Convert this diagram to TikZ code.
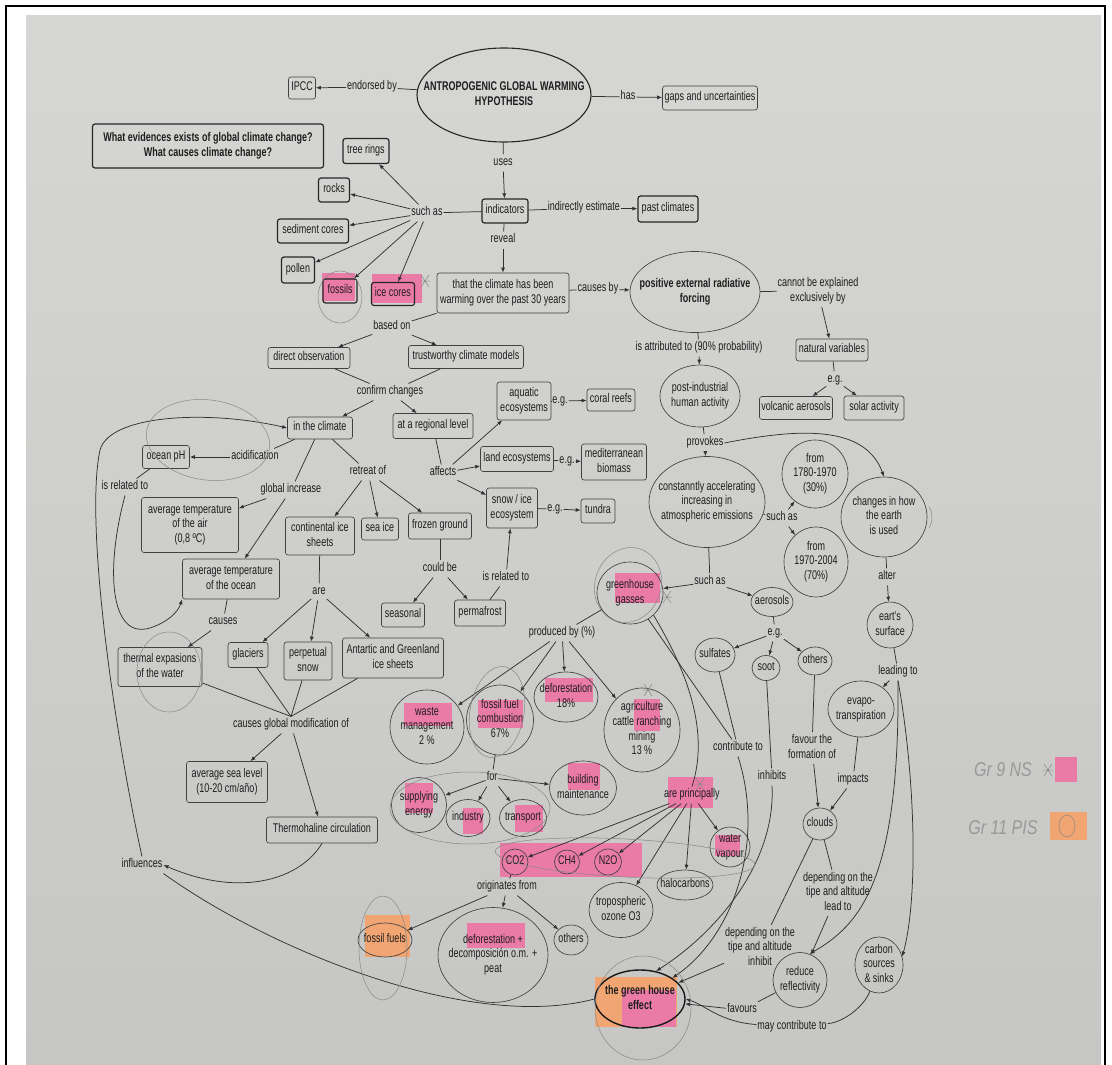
\documentclass[tikz,border=0pt]{standalone}
\usepackage{fontspec}
\setmainfont{Liberation Sans}
\usepackage{graphicx}
\usetikzlibrary{shapes.geometric,arrows.meta}
\definecolor{paperT}{RGB}{214,214,212}
\definecolor{paperB}{RGB}{198,198,196}
\definecolor{txt}{RGB}{30,30,30}
\definecolor{bord}{RGB}{65,65,65}
\definecolor{lin}{RGB}{50,50,50}
\definecolor{pencil}{RGB}{135,135,135}
\definecolor{pinkhl}{RGB}{234,122,166}
\definecolor{orangehl}{RGB}{240,165,115}
\newcommand\mytx[1]{\scalebox{1}[1.4]{\begin{tabular}{@{}c@{}}#1\end{tabular}}}
\newcommand\zt[1]{\makebox[0pt]{\smash{\raisebox{\dimexpr0.5\depth-0.5\height\relax}{\mytx{#1}}}}}
\begin{document}
\begin{tikzpicture}[x=1pt,y=-1pt,
  every node/.style={font=\fontsize{9}{10.5}\selectfont, text=txt},
  bold/.style={font=\fontsize{9}{10.5}\selectfont\bfseries},
  bx/.style={draw=bord, line width=0.65pt, rounded corners=2.5pt, inner sep=0pt},
  bxb/.style={draw=black!85, line width=1.2pt, rounded corners=2.5pt, inner sep=0pt},
  el/.style={ellipse, draw=bord, line width=0.65pt, inner sep=0pt},
  lb/.style={inner sep=1pt},
  ln/.style={draw=lin, line width=0.75pt},
  ar/.style={ln, -{Latex[length=5pt,width=4pt]}},
  pen/.style={draw=pencil, line width=0.5pt},
  hl/.style={fill=pinkhl},
  ho/.style={fill=orangehl}]
\useasboundingbox (0,0) rectangle (1112,1065);
\fill[white] (0,0) rectangle (1112,1065);
\shade[top color=paperT, bottom color=paperB] (26,16) rectangle (1101,1065);
\draw[black, line width=2.2pt] (6,1075) -- (6,6) -- (1105,6) -- (1105,1075);

% highlighter marks
\fill[hl] (322,273) rectangle (355,301);
\fill[hl] (372,274) rectangle (422,303);
\fill[hl] (615,573) rectangle (660,603);
\fill[hl] (404,703) rectangle (452,726);
\fill[hl] (478,700) rectangle (523,728);
\fill[hl] (545,678) rectangle (593,702);
\fill[hl] (634,699) rectangle (660,731);
\fill[hl] (405,783) rectangle (433,813);
\fill[hl] (463,808) rectangle (483,834);
\fill[hl] (515,805) rectangle (543,832);
\fill[hl] (568,763) rectangle (600,790);
\fill[hl] (668,777) rectangle (713,808);
\fill[hl] (500,843) rectangle (642,877);
\fill[hl] (715,835) rectangle (740,856);
\fill[hl] (467,923) rectangle (525,948);
\fill[ho] (595,977) rectangle (677,1027);
\fill[hl] (622,990) rectangle (676,1027);
\fill[ho] (365,915) rectangle (410,957);
\fill[hl] (1055,757) rectangle (1077,782);
\fill[ho] (1050,812) rectangle (1087,840);

% top
\node[el,bold,line width=1.1pt,draw=black!85,minimum width=174pt,minimum height=94pt] (main) at (504,95) {\zt{ANTROPOGENIC GLOBAL WARMING\\HYPOTHESIS}};
\node[bx,minimum width=27pt,minimum height=22pt] (ipcc) at (302,88) {\zt{IPCC}};
\node[lb] (lEnd) at (372,87) {\mytx{endorsed by}};
\node[lb] (lHas) at (628,97) {\mytx{has}};
\node[bx,minimum width=95pt,minimum height=24pt] (gaps) at (710,98) {\zt{gaps and uncertainties}};
\node[bxb,bold,minimum width=231pt,minimum height=44pt] (quest) at (208,146) {\zt{What evidences exists of global climate change?\\What causes climate change?}};
\node[lb] (lUses) at (503,163) {\mytx{uses}};
\node[bxb,minimum width=46pt,minimum height=24pt] (ind) at (505,211) {\zt{indicators}};
\node[lb] (lSuch1) at (427,213) {\mytx{such as}};
\node[bxb,minimum width=46pt,minimum height=25pt] (tree) at (366,151) {\zt{tree rings}};
\node[bxb,minimum width=31pt,minimum height=24pt] (rocks) at (334,190) {\zt{rocks}};
\node[bxb,minimum width=71pt,minimum height=24pt] (sed) at (313,231) {\zt{sediment cores}};
\node[bxb,minimum width=33pt,minimum height=26pt] (pollen) at (298,270) {\zt{pollen}};
\node[bxb,minimum width=34pt,minimum height=24pt] (fossils) at (340,291) {\zt{fossils}};
\node[bxb,minimum width=43pt,minimum height=23pt] (ice) at (393,294) {\zt{ice cores}};
\node[lb] (lIndir) at (584,208) {\mytx{indirectly estimate}};
\node[bxb,minimum width=60pt,minimum height=26pt] (past) at (668,209) {\zt{past climates}};
\node[lb] (lReveal) at (503,240) {\mytx{reveal}};
\node[bx,minimum width=132pt,minimum height=40pt] (warm) at (503,293) {\zt{that the climate has been\\warming over the past 30 years}};
\node[lb] (lCaus) at (598,289) {\mytx{causes by}};
\node[el,bold,minimum width=130pt,minimum height=81pt] (forcing) at (695,292) {\zt{positive external radiative\\forcing}};
\node[lb] (lCannot) at (818,291) {\mytx{cannot be explained\\exclusively by}};
\node[bx,minimum width=72pt,minimum height=22pt] (natvar) at (832,350) {\zt{natural variables}};
\node[lb] (lEg1) at (835,380) {\mytx{e.g.}};
\node[bx,minimum width=73pt,minimum height=23pt] (volc) at (796,408) {\zt{volcanic aerosols}};
\node[bx,minimum width=60pt,minimum height=24pt] (solar) at (874,408) {\zt{solar activity}};
\node[lb] (lAttr) at (699,348) {\mytx{is attributed to (90\% probability)}};
\node[el,minimum width=80pt,minimum height=62pt] (post) at (700,396) {\zt{post-industrial\\human activity}};
\node[lb] (lProv) at (705,443) {\mytx{provokes}};
\node[el,minimum width=116pt,minimum height=91pt] (accel) at (707,502) {\zt{constanntly accelerating\\increasing in\\atmospheric emissions}};
\node[el,minimum width=66pt,minimum height=68pt] (f1780) at (815,474) {\zt{from\\1780-1970\\(30\%)}};
\node[el,minimum width=64pt,minimum height=70pt] (f1970) at (816,562) {\zt{from\\1970-2004\\(70\%)}};
\node[lb] (lSuch2) at (782,518) {\mytx{such as}};
\node[el,minimum width=86pt,minimum height=80pt] (changes) at (884,517) {\zt{changes in how\\the earth\\is used}};
\node[lb] (lAlter) at (887,577) {\mytx{alter}};
\node[el,minimum width=46pt,minimum height=46pt] (earts) at (890,625) {\zt{eart's\\surface}};
\node[lb] (lLead) at (898,672) {\mytx{leading to}};
\node[el,minimum width=66pt,minimum height=56pt] (evapo) at (861,709) {\zt{evapo-\\transpiration}};
\node[lb] (lSuch3) at (710,582) {\mytx{such as}};
\node[el,minimum width=66pt,minimum height=62pt] (ghg) at (630,593) {\zt{greenhouse\\gasses}};
\node[el,minimum width=42pt,minimum height=29pt] (aeros) at (772,602) {\zt{aerosols}};
\node[lb] (lEg4) at (775,633) {\mytx{e.g.}};
\node[el,minimum width=40pt,minimum height=34pt] (sulf) at (715,655) {\zt{sulfates}};
\node[el,minimum width=28pt,minimum height=25pt] (soot) at (766,668) {\zt{soot}};
\node[el,minimum width=34pt,minimum height=28pt] (othA) at (815,661) {\zt{others}};
\node[lb] (lProd) at (562,633) {\mytx{produced by (\%)}};
\node[el,minimum width=74pt,minimum height=74pt] (waste) at (427,727) {\zt{waste\\management\\2 \%}};
\node[el,minimum width=67pt,minimum height=70pt] (ffc) at (500,720) {\zt{fossil fuel\\combustion\\67\%}};
\node[el,minimum width=64pt,minimum height=50pt] (defor) at (566,697) {\zt{deforestation\\18\%}};
\node[el,minimum width=76pt,minimum height=84pt] (agri) at (642,730) {\zt{agriculture\\cattle ranching\\mining\\13 \%}};
\node[lb] (lFor) at (492,778) {\mytx{for}};
\node[el,minimum width=55pt,minimum height=55pt] (supply) at (419,805) {\zt{supplying\\energy}};
\node[el,minimum width=44pt,minimum height=37pt] (industry) at (468,818) {\zt{industry}};
\node[el,minimum width=47pt,minimum height=37pt] (transport) at (523,818) {\zt{transport}};
\node[el,minimum width=67pt,minimum height=54pt] (building) at (583,788) {\zt{building\\maintenance}};
\node[lb] (lPrinc) at (692,795) {\mytx{are principally}};
\node[el,minimum width=26pt,minimum height=26pt] (co2) at (515,862) {\zt{CO2}};
\node[el,minimum width=25pt,minimum height=24pt] (ch4) at (567,862) {\zt{CH4}};
\node[el,minimum width=27pt,minimum height=26pt] (n2o) at (608,862) {\zt{N2O}};
\node[el,minimum width=40pt,minimum height=40pt] (water) at (730,847) {\zt{water\\vapour}};
\node[el,minimum width=56pt,minimum height=30pt] (halo) at (685,885) {\zt{halocarbons}};
\node[el,minimum width=64pt,minimum height=55pt] (ozone) at (621,910) {\zt{tropospheric\\ozone O3}};
\node[lb] (lOrig) at (507,887) {\mytx{originates from}};
\node[el,minimum width=54pt,minimum height=34pt] (ffuels) at (385,940) {\zt{fossil fuels}};
\node[el,minimum width=110pt,minimum height=95pt] (defpeat) at (493,955) {\zt{deforestation +\\decomposición o.m. +\\peat}};
\node[el,minimum width=34pt,minimum height=30pt] (othG) at (571,940) {\zt{others}};
\node[lb] (lContr) at (738,748) {\mytx{contribute to}};
\node[lb] (lInhibits) at (772,777) {\mytx{inhibits}};
\node[lb] (lFavForm) at (812,748) {\mytx{favour the\\formation of}};
\node[lb] (lImpacts) at (853,780) {\mytx{impacts}};
\node[el,minimum width=34pt,minimum height=32pt] (clouds) at (820,824) {\zt{clouds}};
\node[lb] (lLeadTo) at (838,893) {\mytx{depending on the\\tipe and altitude\\lead to}};
\node[lb] (lInhibit) at (760,948) {\mytx{depending on the\\tipe and altitude\\inhibit}};
\node[el,minimum width=54pt,minimum height=55pt] (reduce) at (800,980) {\zt{reduce\\reflectivity}};
\node[el,minimum width=48pt,minimum height=56pt] (carbon) at (879,965) {\zt{carbon\\sources\\\& sinks}};
\node[el,bold,line width=1.4pt,draw=black!90,minimum width=90pt,minimum height=58pt] (ghe) at (640,999) {\zt{the green house\\effect}};
\node[lb] (lFavours) at (742,1010) {\mytx{favours}};
\node[lb] (lMay) at (792,1027) {\mytx{may contribute to}};

% left part
\node[lb] (lBased) at (392,327) {\mytx{based on}};
\node[bx,minimum width=82pt,minimum height=21pt] (direct) at (309,358) {\zt{direct observation}};
\node[bx,minimum width=115pt,minimum height=23pt] (trust) at (466,357) {\zt{trustworthy climate models}};
\node[lb] (lConfirm) at (390,392) {\mytx{confirm changes}};
\node[bx,minimum width=65pt,minimum height=22pt] (climate) at (320,428) {\zt{in the climate}};
\node[bx,minimum width=80pt,minimum height=25pt] (regional) at (433,426) {\zt{at a regional level}};
\node[lb] (lAffects) at (443,473) {\mytx{affects}};
\node[bx,minimum width=54pt,minimum height=38pt] (aquatic) at (524,401) {\zt{aquatic\\ecosystems}};
\node[lb] (lEg2) at (560,401) {\mytx{e.g.}};
\node[bx,minimum width=48pt,minimum height=22pt] (coral) at (611,400) {\zt{coral reefs}};
\node[bx,minimum width=73pt,minimum height=25pt] (land) at (517,459) {\zt{land ecosystems}};
\node[lb] (lEg3) at (567,461) {\mytx{e.g.}};
\node[bx,minimum width=65pt,minimum height=36pt] (medit) at (614,462) {\zt{mediterranean\\biomass}};
\node[bx,minimum width=51pt,minimum height=40pt] (snow) at (512,508) {\zt{snow / ice\\ecosystem}};
\node[lb] (lEg5) at (555,509) {\mytx{e.g.}};
\node[bx,minimum width=34pt,minimum height=24pt] (tundra) at (598,511) {\zt{tundra}};
\node[bx,minimum width=63pt,minimum height=26pt] (frozen) at (440,526) {\zt{frozen ground}};
\node[lb] (lCould) at (440,569) {\mytx{could be}};
\node[bx,minimum width=43pt,minimum height=24pt] (seasonal) at (403,615) {\zt{seasonal}};
\node[bx,minimum width=51pt,minimum height=26pt] (perma) at (480,613) {\zt{permafrost}};
\node[lb] (lRel2) at (506,578) {\mytx{is related to}};
\node[bx,minimum width=47pt,minimum height=23pt] (ocph) at (166,457) {\zt{ocean pH}};
\node[lb] (lAcid) at (255,457) {\mytx{acidification}};
\node[lb] (lRel1) at (125,487) {\mytx{is related to}};
\node[lb] (lGlobal) at (291,490) {\mytx{global increase}};
\node[bx,minimum width=97pt,minimum height=55pt] (air) at (190,525) {\zt{average temperature\\of the air\\(0,8 ºC)}};
\node[lb] (lRetreat) at (368,472) {\mytx{retreat of}};
\node[bx,minimum width=69pt,minimum height=38pt] (cont) at (320,536) {\zt{continental ice\\sheets}};
\node[bx,minimum width=37pt,minimum height=22pt] (seaice) at (380,529) {\zt{sea ice}};
\node[bx,minimum width=97pt,minimum height=40pt] (ocean) at (231,579) {\zt{average temperature\\of the ocean}};
\node[lb] (lAre) at (319,592) {\mytx{are}};
\node[lb] (lCausesO) at (223,622) {\mytx{causes}};
\node[bx,minimum width=84pt,minimum height=39pt] (thermal) at (160,667) {\zt{thermal expasions\\of the water}};
\node[bx,minimum width=40pt,minimum height=25pt] (glaciers) at (248,655) {\zt{glaciers}};
\node[bx,minimum width=48pt,minimum height=38pt] (perp) at (308,661) {\zt{perpetual\\snow}};
\node[bx,minimum width=101pt,minimum height=40pt] (antar) at (393,658) {\zt{Antartic and Greenland\\ice sheets}};
\node[lb] (lGMod) at (291,725) {\mytx{causes global modification of}};
\node[bx,minimum width=81pt,minimum height=41pt] (sealevel) at (227,782) {\zt{average sea level\\(10-20 cm/año)}};
\node[bx,minimum width=111pt,minimum height=26pt] (thermo) at (322,830) {\zt{Thermohaline circulation}};
\node[lb] (lInfl) at (142,865) {\mytx{influences}};

% legend (handwritten, pencil)
\node[font=\fontsize{16}{16}\selectfont\itshape, text=pencil!85] (leg1) at (1003,770) {\scalebox{1}[1.25]{Gr 9 NS}};
\node[font=\fontsize{16}{16}\selectfont\itshape, text=pencil!85] (leg2) at (1003,828) {\scalebox{1}[1.25]{Gr 11 PIS}};

% connectors
\draw[ln] (main) -- (lEnd); \draw[ar] (lEnd) -- (ipcc);
\draw[ln] (main) -- (lHas); \draw[ar] (lHas) -- (gaps);
\draw[ln] (main) -- (lUses); \draw[ar] (lUses) -- (ind);
\draw[ln] (ind) -- (lSuch1);
\foreach \t in {tree,rocks,sed,pollen,fossils,ice} \draw[ar] (lSuch1) -- (\t);
\draw[ln] (ind) -- (lIndir); \draw[ar] (lIndir) -- (past);
\draw[ln] (ind) -- (lReveal); \draw[ar] (lReveal) -- (warm);
\draw[ln] (warm) -- (lCaus); \draw[ar] (lCaus) -- (forcing);
\draw[ln] (warm) -- (lBased); \draw[ar] (lBased) -- (direct); \draw[ar] (lBased) -- (trust);
\draw[ln] (forcing) -- (lCannot); \draw[ar] (lCannot) -- (natvar);
\draw[ln] (natvar) -- (lEg1); \draw[ar] (lEg1) -- (volc); \draw[ar] (lEg1) -- (solar);
\draw[ln] (forcing) -- (lAttr); \draw[ar] (lAttr) -- (post);
\draw[ln] (post) -- (lProv); \draw[ar] (lProv) -- (accel);
\draw[ar] (lProv.east) .. controls (800,428) and (865,425) .. (changes.north);
\draw[ln] (accel) -- (lSuch2); \draw[ar] (lSuch2) -- (f1780); \draw[ar] (lSuch2) -- (f1970);
\draw[ln] (accel) -- (lSuch3); \draw[ar] (lSuch3) -- (ghg); \draw[ar] (lSuch3) -- (aeros);
\draw[ln] (aeros) -- (lEg4);
\foreach \t in {sulf,soot,othA} \draw[ar] (lEg4) -- (\t);
\draw[ln] (changes) -- (lAlter); \draw[ar] (lAlter) -- (earts);
\draw[ln] (earts) -- (lLead); \draw[ar] (lLead) -- (evapo);
\draw[ar] (lLead.south) .. controls (900,880) and (860,925) .. (reduce.70);
\draw[ar] (lLead.south) .. controls (916,780) and (918,900) .. (carbon.20);
\draw[ln] (evapo) -- (lImpacts); \draw[ar] (lImpacts) -- (clouds);
\draw[ln] (othA) -- (lFavForm); \draw[ar] (lFavForm) -- (clouds);
\draw[ln] (clouds) -- (lLeadTo); \draw[ar] (lLeadTo) -- (reduce);
\draw[ln] (clouds) -- (lInhibit); \draw[ar] (lInhibit) -- (ghe);
\draw[ln] (reduce) -- (lFavours); \draw[ar] (lFavours) -- (ghe);
\draw[ln] (carbon) .. controls (865,1005) and (845,1022) .. (lMay);
\draw[ar] (lMay) .. controls (720,1022) and (705,1005) .. (ghe.east);
\draw[ln] (sulf) -- (lContr); \draw[ln] (ghg) -- (lContr);
\draw[ar] (lContr.south) .. controls (765,840) and (735,935) .. (ghe.north east);
\draw[ln] (soot) -- (lInhibits);
\draw[ar] (lInhibits.south) .. controls (776,860) and (720,930) .. (ghe.60);
\draw[ln] (ghg) -- (lProd);
\foreach \t in {waste,ffc,defor,agri} \draw[ar] (lProd) -- (\t);
\draw[ln] (ffc) -- (lFor);
\foreach \t in {supply,industry,transport,building} \draw[ar] (lFor) -- (\t);
\draw[ln] (ghg.south east) .. controls (680,660) and (712,725) .. (lPrinc.north);
\foreach \t in {co2,ch4,n2o,ozone,halo,water} \draw[ar] (lPrinc) -- (\t);
\draw[ln] (co2) -- (lOrig);
\foreach \t in {ffuels,defpeat,othG} \draw[ar] (lOrig) -- (\t);

\draw[ln] (direct) -- (lConfirm); \draw[ln] (trust) -- (lConfirm);
\draw[ar] (lConfirm) -- (climate); \draw[ar] (lConfirm) -- (regional);
\draw[ln] (regional) -- (lAffects);
\foreach \t in {aquatic,land,snow} \draw[ar] (lAffects) -- (\t);
\draw[ln] (aquatic) -- (lEg2); \draw[ar] (lEg2) -- (coral);
\draw[ln] (land) -- (lEg3); \draw[ar] (lEg3) -- (medit);
\draw[ln] (snow) -- (lEg5); \draw[ar] (lEg5) -- (tundra);
\draw[ln] (climate) -- (lAcid); \draw[ar] (lAcid) -- (ocph);
\draw[ln] (climate) -- (lGlobal); \draw[ar] (lGlobal) -- (air); \draw[ar] (lGlobal) -- (ocean);
\draw[ln] (climate) -- (lRetreat);
\foreach \t in {cont,seaice,frozen} \draw[ar] (lRetreat) -- (\t);
\draw[ln] (ocph) -- (lRel1);
\draw[ar] (lRel1.south) .. controls (105,570) and (110,640) .. (150,628) .. controls (168,622) and (178,612) .. (ocean.south west);
\draw[ln] (ocean) -- (lCausesO); \draw[ar] (lCausesO) -- (thermal);
\draw[ln] (cont) -- (lAre);
\foreach \t in {glaciers,perp,antar} \draw[ar] (lAre) -- (\t);
\foreach \t in {thermal,glaciers,perp,antar} \draw[ln] (\t) -- (lGMod.north);
\draw[ar] (lGMod) -- (sealevel); \draw[ar] (lGMod) -- (thermo);
\draw[ln] (frozen) -- (lCould); \draw[ar] (lCould) -- (seasonal); \draw[ar] (lCould) -- (perma);
\draw[ln] (perma) -- (lRel2); \draw[ar] (lRel2) -- (snow);
\draw[ar] (thermo.south) .. controls (300,880) and (240,898) .. (lInfl.east);
\draw[ln] (ghe.west) .. controls (470,1032) and (270,950) .. (lInfl.south east);
\draw[ar] (lInfl.north) .. controls (112,720) and (85,520) .. (100,450) .. controls (110,414) and (210,410) .. (climate.west);

% pencil annotations
\draw[pen] (340,297) ellipse [x radius=22,y radius=26];
\draw[pen,rotate around={-8:(208,440)}] (208,440) ellipse [x radius=62,y radius=40];
\draw[pen] (169,672) ellipse [x radius=32,y radius=40];
\draw[pen,rotate around={-20:(628,585)}] (628,585) ellipse [x radius=33,y radius=38];
\draw[pen,rotate around={-10:(497,712)}] (497,712) ellipse [x radius=27,y radius=46];
\draw[pen] (470,808) ellipse [x radius=80,y radius=36];
\draw[pen,rotate around={-3:(625,858)}] (625,858) ellipse [x radius=130,y radius=19];
\draw[pen] (383,948) ellipse [x radius=24,y radius=52];
\draw[pen] (643,1008) ellipse [x radius=48,y radius=52];
\draw[pen] (1067,826) ellipse [x radius=8,y radius=11];
\draw[pen] (929,507) .. controls (933,512) and (933,522) .. (929,528);
\foreach \p in {(425,281),(667,597),(700,784),(648,690),(1048,770)}
  \draw[pen] \p ++(-4,-6) -- ++(8,12) \p ++(4,-6) -- ++(-8,12) \p ++(-5,0) -- ++(10,0);
\end{tikzpicture}
\end{document}
